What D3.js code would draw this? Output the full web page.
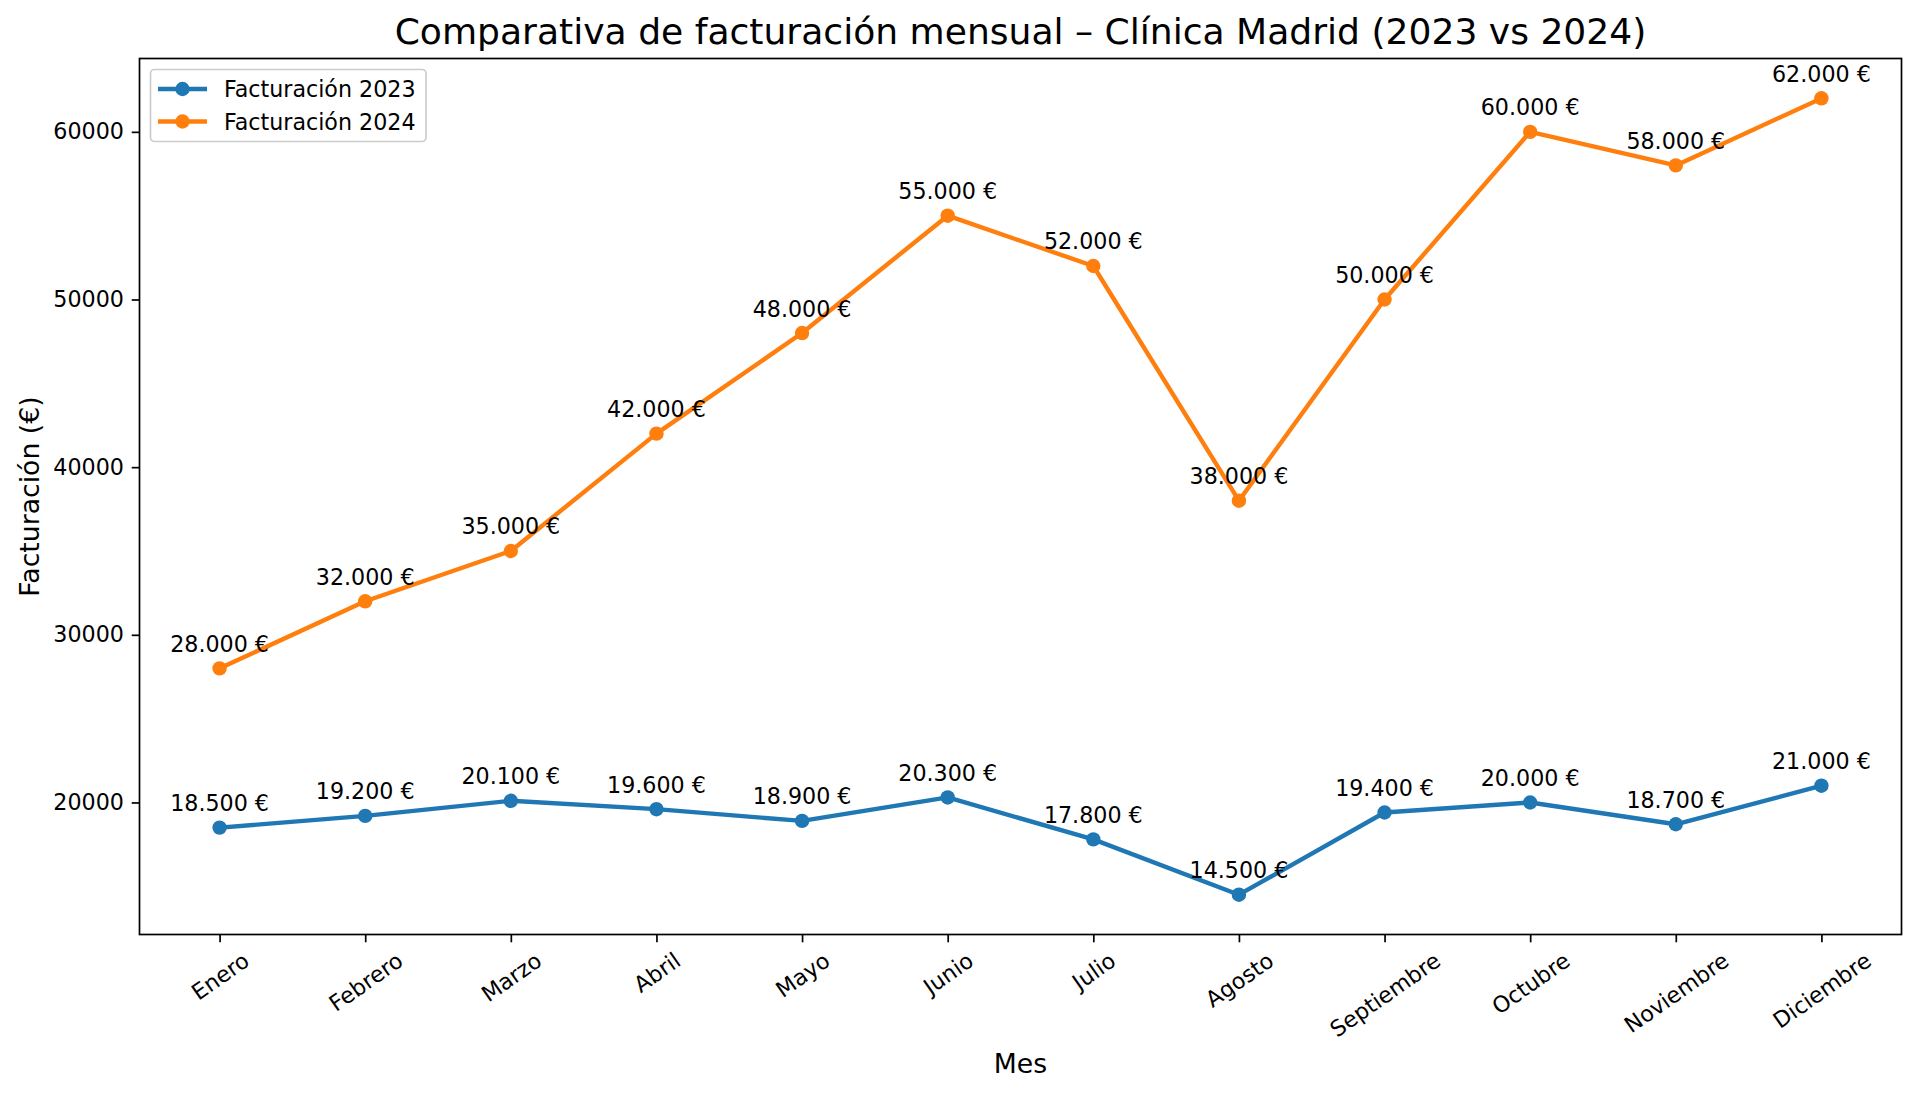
<!DOCTYPE html>
<html><head><meta charset="utf-8">
<script src="https://cdn.jsdelivr.net/npm/d3@7"></script>
<style>body{margin:0;background:#fff}svg{display:block;font-family:"DejaVu Sans",sans-serif}</style>
</head><body><svg id="c" width="1918" height="1095"></svg>
<script>
const months = ["Enero","Febrero","Marzo","Abril","Mayo","Junio","Julio","Agosto","Septiembre","Octubre","Noviembre","Diciembre"];
const values2023 = [18500,19200,20100,19600,18900,20300,17800,14500,19400,20000,18700,21000];
const values2024 = [28000,32000,35000,42000,48000,55000,52000,38000,50000,60000,58000,62000];
const yTicks = [20000,30000,40000,50000,60000];
const seriesNames = ["Facturación 2023","Facturación 2024"];
const colors = ["#1f77b4","#ff7f0e"];

const FS = 22.2;
const svg = d3.select("#c");
const L=139.5, R=1901.5, T=58.5, B=934.5;
const x = d3.scaleLinear().domain([-0.55, 11.55]).range([L,R]);
const y = d3.scaleLinear().domain([12125, 64375]).range([B,T]);
const fmt = v => d3.format(",")(v).replace(/,/g,".") + " €";

// axes frame
svg.append("rect").attr("x",L).attr("y",T).attr("width",R-L).attr("height",B-T)
  .attr("fill","none").attr("stroke","#000").attr("stroke-width",1.7);

// y axis
const ya = svg.append("g").attr("transform",`translate(${L},0)`)
  .call(d3.axisLeft(y).tickValues(yTicks).tickFormat(d=>d).tickSize(7.8).tickPadding(7.8));
ya.select(".domain").remove();
ya.selectAll("line").attr("stroke","#000").attr("stroke-width",1.7);
ya.selectAll("text").attr("font-size",FS).attr("fill","#000").attr("font-family","DejaVu Sans");

// x axis
const xa = svg.append("g").attr("transform",`translate(0,${B})`)
  .call(d3.axisBottom(x).tickValues(d3.range(months.length)).tickFormat(i=>months[i]).tickSize(7.8).tickPadding(7.8));
xa.select(".domain").remove();
xa.selectAll("line").attr("stroke","#000").attr("stroke-width",1.7);
const ang = 35, rad = ang*Math.PI/180;
xa.selectAll("text").attr("font-size",FS).attr("fill","#000").attr("font-family","DejaVu Sans")
  .each(function(){
    const t=d3.select(this);
    const w=this.getComputedTextLength(), h=FS*1.17;
    const bh = w*Math.sin(rad)+h*Math.cos(rad);
    const cy = 12.6 + bh/2;
    t.attr("y",null).attr("dy",null).attr("text-anchor","middle").attr("dominant-baseline","central")
     .attr("transform",`translate(0,${cy}) rotate(-${ang})`);
  });

// lines
const series=[values2023, values2024];
const line = d3.line().x((d,i)=>x(i)).y(d=>y(d));
series.forEach((s,k)=>{
  svg.append("path").datum(s).attr("d",line).attr("fill","none").attr("stroke",colors[k])
    .attr("stroke-width",4.4).attr("stroke-linejoin","round").attr("stroke-linecap","square");
  svg.selectAll(null).data(s).enter().append("circle").attr("cx",(d,i)=>x(i)).attr("cy",d=>y(d))
    .attr("r",7.2).attr("fill",colors[k]);
});
series.forEach((s,k)=>{
  svg.selectAll(null).data(s).enter().append("text").attr("x",(d,i)=>x(i)).attr("y",d=>y(d)-16.5)
    .attr("text-anchor","middle").attr("font-size",FS).attr("fill","#000").text(d=>fmt(d));
});

// title & labels
svg.append("text").attr("x",(L+R)/2).attr("y",44).attr("text-anchor","middle").attr("font-size",36.1).text("Comparativa de facturación mensual – Clínica Madrid (2023 vs 2024)");
svg.append("text").attr("x",(L+R)/2).attr("y",1072.5).attr("text-anchor","middle").attr("font-size",26.7).text("Mes");
svg.append("text").attr("transform",`translate(39,${(T+B)/2}) rotate(-90)`).attr("text-anchor","middle").attr("font-size",26.7).text("Facturación (€)");

// legend
const lg = svg.append("g");
lg.append("rect").attr("x",150.5).attr("y",69.5).attr("width",275.5).attr("height",72).attr("rx",4)
  .attr("fill","#fff").attr("fill-opacity",0.8).attr("stroke","#cccccc").attr("stroke-width",1.7);
seriesNames.forEach((n,k)=>{
  const ry = 89 + k*32.5;
  lg.append("line").attr("x1",158).attr("x2",207).attr("y1",ry).attr("y2",ry).attr("stroke",colors[k]).attr("stroke-width",4.4);
  lg.append("circle").attr("cx",182.5).attr("cy",ry).attr("r",7.2).attr("fill",colors[k]);
  lg.append("text").attr("x",224).attr("y",ry+8).attr("font-size",FS).text(n);
});
</script></body></html>
